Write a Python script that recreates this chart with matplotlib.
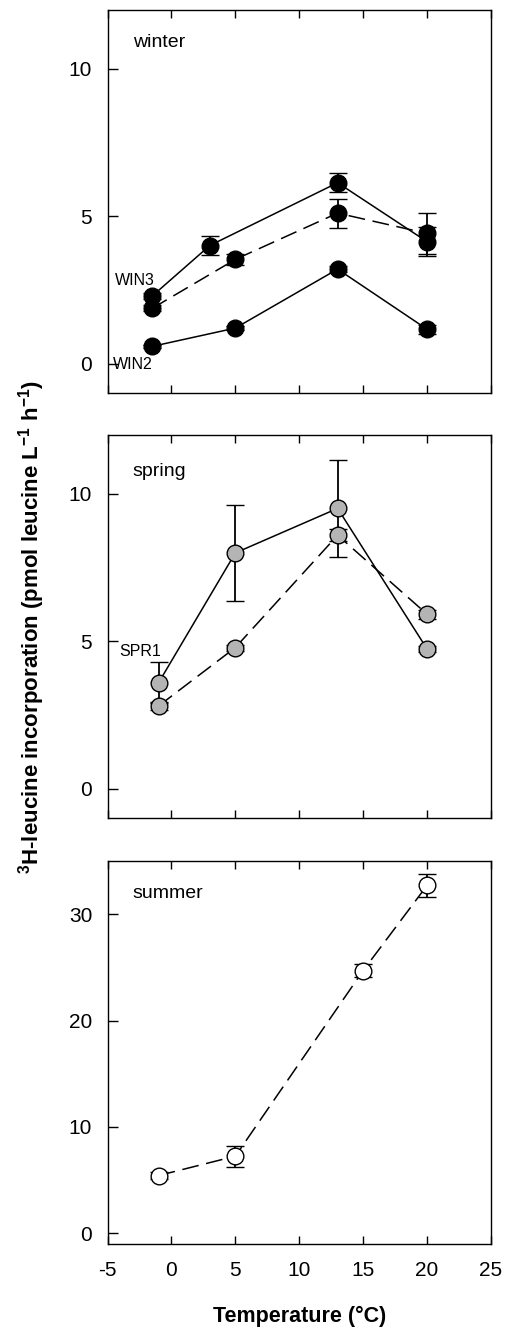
import matplotlib
matplotlib.use('Agg')
import matplotlib.pyplot as plt

plt.rcParams['font.family'] = ['Liberation Sans', 'DejaVu Sans']
plt.rcParams['mathtext.fontset'] = 'custom'
plt.rcParams['mathtext.rm'] = 'Liberation Sans:bold'
plt.rcParams['mathtext.bf'] = 'Liberation Sans:bold'
plt.rcParams['axes.unicode_minus'] = False

# winter
win3_x = [-1.5, 3, 13, 20]
win3_y = [2.30, 4.01, 6.14, 4.14]
win3_err = [0.1, 0.31, 0.33, 0.5]
windash_x = [-1.5, 5, 13, 20]
windash_y = [1.88, 3.54, 5.11, 4.42]
windash_err = [0.1, 0.2, 0.49, 0.7]
win2_x = [-1.5, 5, 13, 20]
win2_y = [0.59, 1.21, 3.21, 1.17]
win2_err = [0.05, 0.08, 0.1, 0.15]

# spring
spr1_x = [-1, 5, 13, 20]
spr1_y = [3.60, 8.00, 9.51, 4.74]
spr1_err = [0.69, 1.64, 1.64, 0.1]
sprdash_x = [-1, 5, 13, 20]
sprdash_y = [2.81, 4.79, 8.60, 5.92]
sprdash_err = [0.15, 0.1, 0.2, 0.15]

# summer
sum_x = [-1, 5, 15, 20]
sum_y = [5.43, 7.25, 24.7, 32.7]
sum_err = [0.3, 1.0, 0.6, 1.07]

xticks = [-5, 0, 5, 10, 15, 20, 25]

fig = plt.figure(figsize=(5.05, 13.29), dpi=100)
left, width = 0.2129, 0.7594
ax1 = fig.add_axes([left, 0.7041, width, 0.2884])
ax2 = fig.add_axes([left, 0.3843, width, 0.2884])
ax3 = fig.add_axes([left, 0.0640, width, 0.2882])

dash = (0, (11, 5))


def series(ax, x, y, err, face, ls):
    ax.errorbar(x, y, yerr=err, color='black', lw=1.1, ls=ls, marker='o',
                ms=12, mfc=face, mec='black', mew=1.0, capsize=6.5,
                capthick=1.3, elinewidth=1.3)


series(ax1, win3_x, win3_y, win3_err, 'black', '-')
series(ax1, windash_x, windash_y, windash_err, 'black', dash)
series(ax1, win2_x, win2_y, win2_err, 'black', '-')

series(ax2, spr1_x, spr1_y, spr1_err, '#b4b4b4', '-')
series(ax2, sprdash_x, sprdash_y, sprdash_err, '#b4b4b4', dash)

series(ax3, sum_x, sum_y, sum_err, 'white', dash)

for ax in (ax1, ax2, ax3):
    ax.set_xlim(-5, 25)
    ax.set_xticks(xticks)
    ax.tick_params(axis='x', direction='in', top=True, length=6, width=1,
                   labelsize=15, pad=12)
    ax.tick_params(axis='y', direction='in', length=7.5, width=1,
                   labelsize=15, pad=11)
    for s in ax.spines.values():
        s.set_linewidth(1.0)

ax1.set_ylim(-1, 12)
ax1.set_yticks([0, 5, 10])
ax2.set_ylim(-1, 12)
ax2.set_yticks([0, 5, 10])
ax3.set_ylim(-1, 35)
ax3.set_yticks([0, 10, 20, 30])
ax1.tick_params(axis='x', labelbottom=False)
ax2.tick_params(axis='x', labelbottom=False)

ax1.text(0.066, 0.914, 'winter', transform=ax1.transAxes, fontsize=14,
         va='center', ha='left')
ax2.text(0.066, 0.904, 'spring', transform=ax2.transAxes, fontsize=14,
         va='center', ha='left')
ax3.text(0.066, 0.916, 'summer', transform=ax3.transAxes, fontsize=14,
         va='center', ha='left')

ax1.text(-4.4, 2.84, 'WIN3', fontsize=11.5, va='center', ha='left')
ax1.text(-4.55, -0.03, 'WIN2', fontsize=11.5, va='center', ha='left')
ax2.text(-4.1, 4.64, 'SPR1', fontsize=11.5, va='center', ha='left')

fig.text(0.062, 0.528,
         r'$^{3}$H-leucine incorporation (pmol leucine L$^{-1}$ h$^{-1}$)',
         rotation=90, fontsize=16, fontweight='bold', ha='center', va='center')
fig.text(0.593, 0.0095, 'Temperature (°C)', fontsize=15.5, fontweight='bold',
         ha='center', va='center')

fig.savefig('out.png', dpi=100)
